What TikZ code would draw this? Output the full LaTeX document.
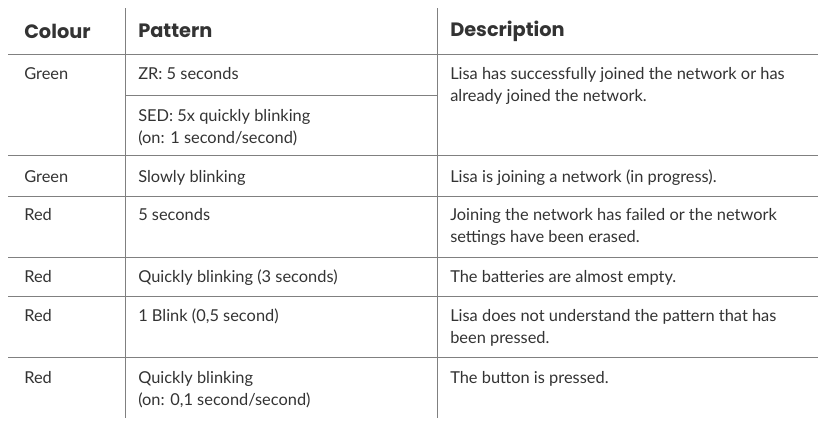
\documentclass[tikz,border=0pt]{standalone}
\usepackage{fontspec}
\setmainfont{Lato}
\newfontfamily\headfont{Poppins}
\definecolor{txt}{HTML}{333333}
\definecolor{rule}{HTML}{808080}
\begin{document}
\begin{tikzpicture}[x=0.75pt,y=-0.75pt,
  head/.style={anchor=west,inner sep=0pt,font=\headfont\fontsize{14.5}{18}\selectfont\bfseries,text=txt},
  cell/.style={anchor=north west,inner sep=0pt,align=left,font=\fontsize{12.3}{16.5}\selectfont\color{txt}},
  grid/.style={draw=rule,line width=0.6pt}]
\useasboundingbox (0,0) rectangle (819,421);
% rules
\draw[grid] (125,8) -- (125,418);
\draw[grid] (437,8) -- (437,418);
\foreach \y in {54,155,196,257,296,357}
  \draw[grid] (8,\y) -- (818,\y);
\draw[grid] (125,95) -- (437,95);
% header
\node[head] (hcol) at (24,31) {Colour};
\node[head] (hpat) at (138,31) {Pattern};
\node[head] (hdes) at (450,31) {Description};
% rows
\node[cell] (c1) at (24,67) {Green};
\node[cell] (p1a) at (138,67) {ZR: 5 seconds};
\node[cell] (p1b) at (138,109) {SED: 5x quickly blinking\\(on: 1 second/second)};
\node[cell] (d1) at (450,67) {Lisa has successfully joined the network or has\\already joined the network.};
\node[cell] (c2) at (24,170) {Green};
\node[cell] (p2) at (138,170) {Slowly blinking};
\node[cell] (d2) at (450,170) {Lisa is joining a network (in progress).};
\node[cell] (c3) at (24,208) {Red};
\node[cell] (p3) at (138,208) {5 seconds};
\node[cell] (d3) at (450,208) {Joining the network has failed or the network\\settings have been erased.};
\node[cell] (c4) at (24,270) {Red};
\node[cell] (p4) at (138,270) {Quickly blinking (3 seconds)};
\node[cell] (d4) at (450,270) {The batteries are almost empty.};
\node[cell] (c5) at (24,309) {Red};
\node[cell] (p5) at (138,309) {1 Blink (0,5 second)};
\node[cell] (d5) at (450,309) {Lisa does not understand the pattern that has\\been pressed.};
\node[cell] (c6) at (24,371) {Red};
\node[cell] (p6) at (138,371) {Quickly blinking\\(on: 0,1 second/second)};
\node[cell] (d6) at (450,371) {The button is pressed.};
\end{tikzpicture}
\end{document}
